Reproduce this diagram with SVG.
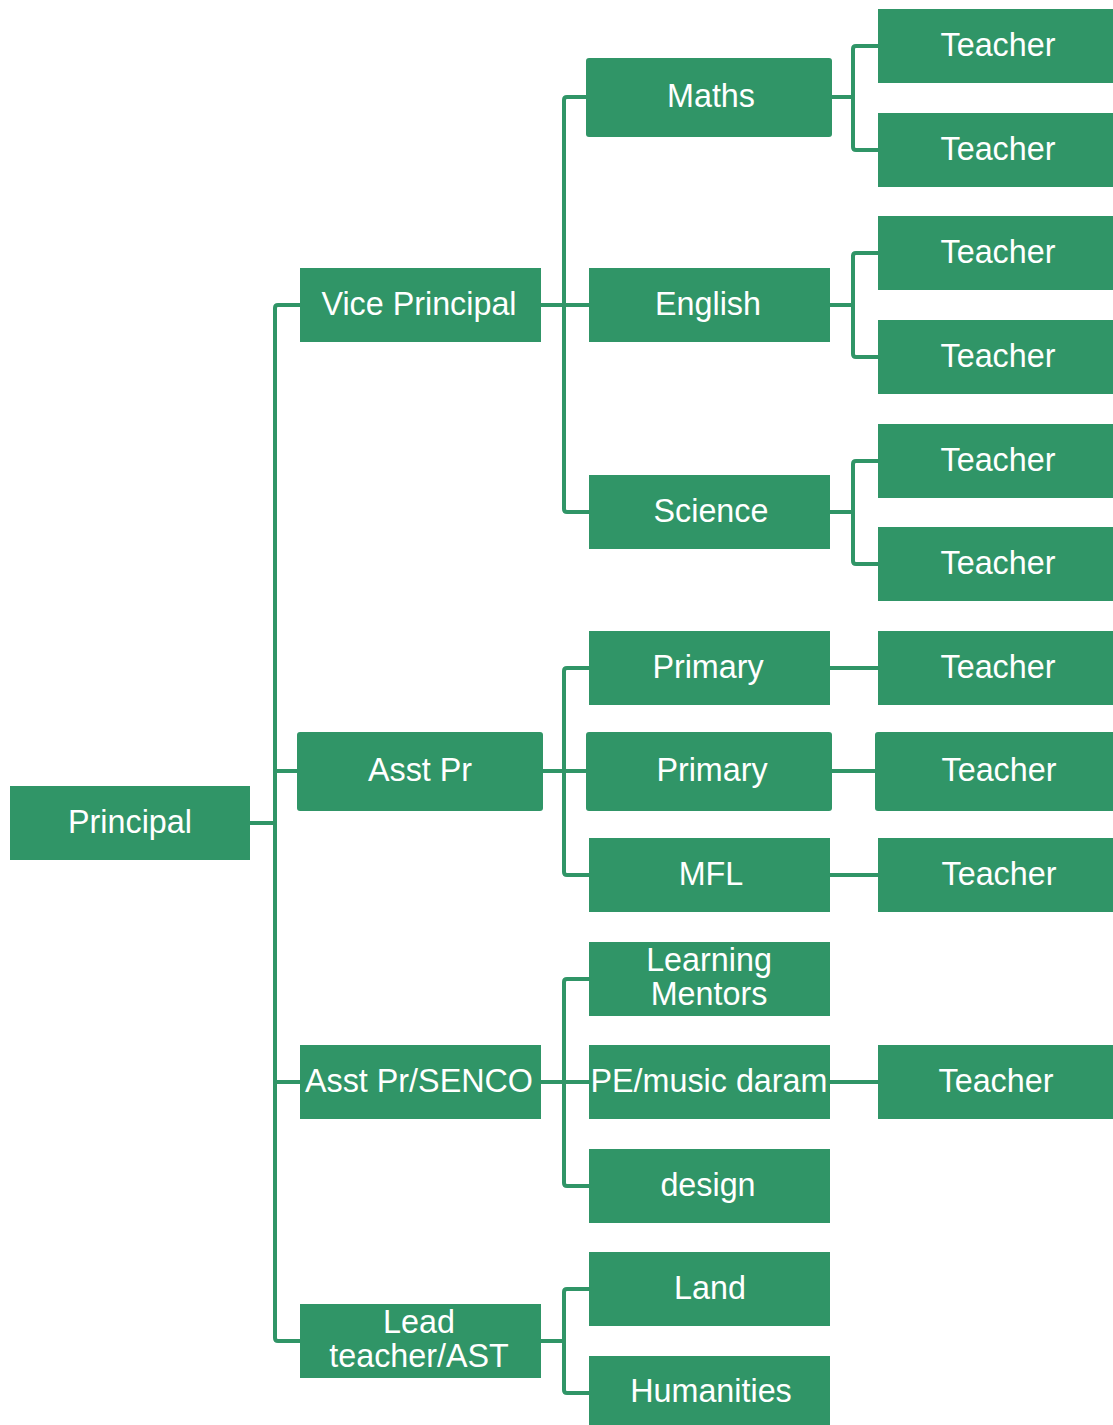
<svg xmlns="http://www.w3.org/2000/svg" width="1113" height="1425" viewBox="0 0 1113 1425">
  <style>
    .box { fill: #309567; }
    .lbl { fill: #ffffff; font-family: "Liberation Sans", Arial, sans-serif; font-size: 32.3px; text-anchor: middle; }
    .wire { fill: none; stroke: #309567; stroke-width: 4; stroke-linejoin: round; }
  </style>
  <rect width="1113" height="1425" fill="#ffffff"/>

  <!-- connectors -->
  <g id="connectors" class="wire">
    <!-- Principal to level 1 -->
    <path d="M250 823 H275"/>
    <path d="M300 305 H278 Q275 305 275 308 V1338 Q275 1341 278 1341 H300"/>
    <path d="M275 771 H297"/>
    <path d="M275 1082 H300"/>
    <!-- Vice Principal branch -->
    <path d="M541 305 H589"/>
    <path d="M586 97 H567 Q564 97 564 100 V509 Q564 512 567 512 H589"/>
    <!-- Asst Pr branch -->
    <path d="M543 771 H586"/>
    <path d="M589 668 H567 Q564 668 564 671 V872 Q564 875 567 875 H589"/>
    <!-- Asst Pr/SENCO branch -->
    <path d="M541 1082 H589"/>
    <path d="M589 979 H567 Q564 979 564 982 V1183 Q564 1186 567 1186 H589"/>
    <!-- Lead teacher/AST branch -->
    <path d="M541 1341 H564"/>
    <path d="M589 1289 H567 Q564 1289 564 1292 V1390 Q564 1393 567 1393 H589"/>
    <!-- department to teachers -->
    <path d="M832 97 H853"/>
    <path d="M878 46 H856 Q853 46 853 49 V147 Q853 150 856 150 H878"/>
    <path d="M830 305 H853"/>
    <path d="M878 253 H856 Q853 253 853 256 V354 Q853 357 856 357 H878"/>
    <path d="M830 512 H853"/>
    <path d="M878 461 H856 Q853 461 853 464 V561 Q853 564 856 564 H878"/>
    <path d="M830 668 H878"/>
    <path d="M832 771 H875"/>
    <path d="M830 875 H878"/>
    <path d="M830 1082 H878"/>
  </g>

  <!-- root -->
  <g id="principal"><rect class="box" x="10" y="786" width="240" height="74"/><text class="lbl" x="130" y="833">Principal</text></g>

  <!-- level 1 -->
  <g id="vice-principal"><rect class="box" x="300" y="268" width="241" height="74"/><text class="lbl" x="419" y="315">Vice Principal</text></g>
  <g id="asst-pr"><rect class="box" x="297" y="732" width="246" height="79" rx="3"/><text class="lbl" x="420" y="781">Asst Pr</text></g>
  <g id="asst-pr-senco"><rect class="box" x="300" y="1045" width="241" height="74"/><text class="lbl" x="419" y="1092">Asst Pr/SENCO</text></g>
  <g id="lead-teacher"><rect class="box" x="300" y="1304" width="241" height="74"/><text class="lbl" x="419" y="1333">Lead</text><text class="lbl" x="419" y="1367">teacher/AST</text></g>

  <!-- level 2 -->
  <g id="maths"><rect class="box" x="586" y="58" width="246" height="79" rx="3"/><text class="lbl" x="711" y="107">Maths</text></g>
  <g id="english"><rect class="box" x="589" y="268" width="241" height="74"/><text class="lbl" x="708" y="315">English</text></g>
  <g id="science"><rect class="box" x="589" y="475" width="241" height="74"/><text class="lbl" x="711" y="522">Science</text></g>
  <g id="primary-1"><rect class="box" x="589" y="631" width="241" height="74"/><text class="lbl" x="708" y="678">Primary</text></g>
  <g id="primary-2"><rect class="box" x="586" y="732" width="246" height="79" rx="3"/><text class="lbl" x="712" y="781">Primary</text></g>
  <g id="mfl"><rect class="box" x="589" y="838" width="241" height="74"/><text class="lbl" x="711" y="885">MFL</text></g>
  <g id="learning-mentors"><rect class="box" x="589" y="942" width="241" height="74"/><text class="lbl" x="709" y="971">Learning</text><text class="lbl" x="709" y="1005">Mentors</text></g>
  <g id="pe-music"><rect class="box" x="589" y="1045" width="241" height="74"/><text class="lbl" x="709" y="1092">PE/music daram</text></g>
  <g id="design"><rect class="box" x="589" y="1149" width="241" height="74"/><text class="lbl" x="708" y="1196">design</text></g>
  <g id="land"><rect class="box" x="589" y="1252" width="241" height="74"/><text class="lbl" x="710" y="1299">Land</text></g>
  <g id="humanities"><rect class="box" x="589" y="1356" width="241" height="74"/><text class="lbl" x="711" y="1402">Humanities</text></g>

  <!-- teachers -->
  <g id="teacher-maths-1"><rect class="box" x="878" y="9" width="241" height="74"/><text class="lbl" x="998" y="56">Teacher</text></g>
  <g id="teacher-maths-2"><rect class="box" x="878" y="113" width="241" height="74"/><text class="lbl" x="998" y="160">Teacher</text></g>
  <g id="teacher-english-1"><rect class="box" x="878" y="216" width="241" height="74"/><text class="lbl" x="998" y="263">Teacher</text></g>
  <g id="teacher-english-2"><rect class="box" x="878" y="320" width="241" height="74"/><text class="lbl" x="998" y="367">Teacher</text></g>
  <g id="teacher-science-1"><rect class="box" x="878" y="424" width="241" height="74"/><text class="lbl" x="998" y="471">Teacher</text></g>
  <g id="teacher-science-2"><rect class="box" x="878" y="527" width="241" height="74"/><text class="lbl" x="998" y="574">Teacher</text></g>
  <g id="teacher-primary-1"><rect class="box" x="878" y="631" width="241" height="74"/><text class="lbl" x="998" y="678">Teacher</text></g>
  <g id="teacher-primary-2"><rect class="box" x="875" y="732" width="246" height="79" rx="3"/><text class="lbl" x="999" y="781">Teacher</text></g>
  <g id="teacher-mfl"><rect class="box" x="878" y="838" width="241" height="74"/><text class="lbl" x="999" y="885">Teacher</text></g>
  <g id="teacher-pe"><rect class="box" x="878" y="1045" width="241" height="74"/><text class="lbl" x="996" y="1092">Teacher</text></g>
</svg>
